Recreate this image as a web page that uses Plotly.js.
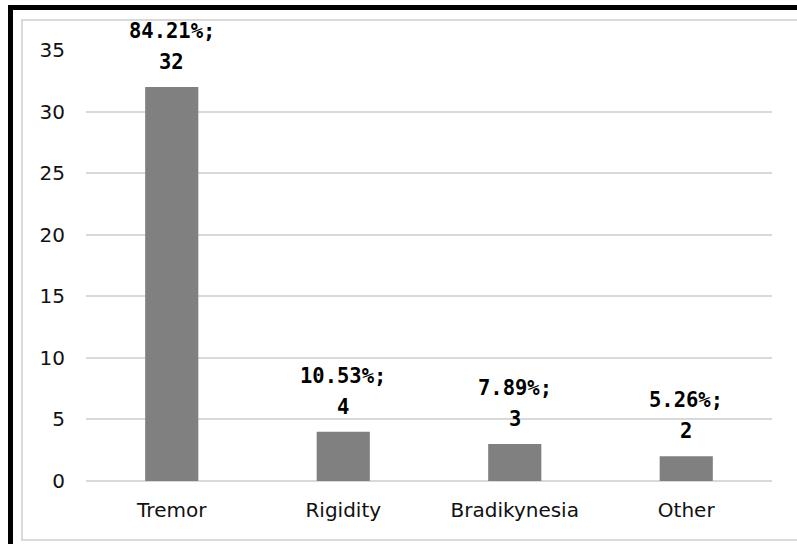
<!DOCTYPE html>
<html>
<head>
<meta charset="utf-8">
<script src="https://cdn.plot.ly/plotly-3.0.1.min.js"></script>
<style>html,body{margin:0;padding:0;background:#fff;}#chart{width:797px;height:544px;}</style>
</head>
<body>
<div id="chart"></div>
<script>
const categories = ["Tremor", "Rigidity", "Bradikynesia", "Other"];
const counts = [32, 4, 3, 2];
const percentLabels = ["84.21%;", "10.53%;", "7.89%;", "5.26%;"];
const yTicks = [0, 5, 10, 15, 20, 25, 30, 35];

const W = 797, H = 544;
const M = {l: 86, r: 25, t: 50, b: 63};
const pw = W - M.l - M.r, ph = H - M.t - M.b;
const px = x => (x - M.l) / pw;
const py = y => (H - M.b - y) / ph;

const labelFont = {family: "DejaVu Sans Mono", size: 20.5, color: "#000"};
const annotations = [];
categories.forEach((c, i) => {
  annotations.push({x: c, y: counts[i], xref: "x", yref: "y", text: "<b>" + counts[i] + "</b>",
    showarrow: false, yshift: 25, font: labelFont, yanchor: "middle"});
  annotations.push({x: c, y: counts[i], xref: "x", yref: "y", text: "<b>" + percentLabels[i] + "</b>",
    showarrow: false, yshift: 56, font: labelFont, yanchor: "middle"});
});

const shapes = [
  {type: "rect", xref: "paper", yref: "paper", x0: px(22), x1: px(805), y0: py(540), y1: py(20),
   line: {color: "#d9d9d9", width: 2}, fillcolor: "rgba(0,0,0,0)", layer: "below"},
  {type: "line", xref: "paper", yref: "paper", x0: px(10.5), x1: px(10.5), y0: py(560), y1: py(5),
   line: {color: "#000", width: 5}},
  {type: "line", xref: "paper", yref: "paper", x0: px(8), x1: px(805), y0: py(7.5), y1: py(7.5),
   line: {color: "#000", width: 5}}
];

const data = [{
  type: "bar",
  x: categories,
  y: counts,
  marker: {color: "#808080"},
  width: 0.31,
  hoverinfo: "none"
}];

const layout = {
  width: W, height: H,
  margin: M,
  paper_bgcolor: "#fff", plot_bgcolor: "#fff",
  showlegend: false,
  font: {family: "DejaVu Sans", size: 20, color: "#111"},
  xaxis: {
    tickfont: {family: "DejaVu Sans", size: 20, color: "#111"},
    showgrid: false, zeroline: false, showline: false, ticks: "",
    ticklabelstandoff: 15
  },
  yaxis: {
    range: [0, 35], tickvals: yTicks, ticktext: yTicks.map(String),
    showgrid: true, gridcolor: "#d9d9d9", gridwidth: 2,
    zeroline: true, zerolinecolor: "#d9d9d9", zerolinewidth: 2,
    showline: false, ticks: "",
    tickfont: {family: "DejaVu Sans", size: 20, color: "#111"},
    ticklabelstandoff: 20
  },
  annotations: annotations,
  shapes: shapes
};

Plotly.newPlot("chart", data, layout, {displayModeBar: false, staticPlot: true});
</script>
</body>
</html>
